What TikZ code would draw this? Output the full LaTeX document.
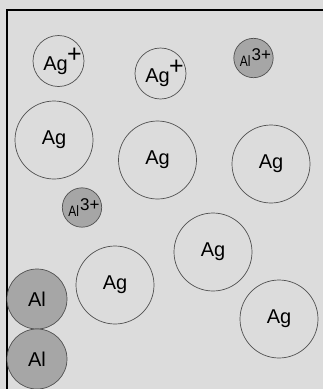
\documentclass[tikz,border=0pt]{standalone}
\usepackage{fontspec}
\setmainfont{Liberation Sans}
\definecolor{bggray}{HTML}{DCDCDC}
\definecolor{ionfill}{HTML}{A6A6A6}
\definecolor{rimgray}{HTML}{505050}
\newcommand{\agion}{\fontsize{20}{20}\selectfont\kern-6pt Ag\rlap{\kern-0.5pt\raisebox{8pt}{\fontsize{25}{25}\selectfont +}}}
\newcommand{\alion}{\kern4pt\fontsize{15}{15}\selectfont\scalebox{0.8}[1]{Al}\kern1pt\raisebox{6pt}{\fontsize{17}{17}\selectfont 3+}}

\begin{document}
\begin{tikzpicture}[x=1pt,y=-1pt,
    atom/.style={circle,draw=rimgray,line width=0.7pt,inner sep=0pt,font=\fontsize{20}{20}\selectfont},
    silver/.style={atom,minimum size=78pt},
    silverion/.style={atom,minimum size=51pt},
    alu/.style={atom,fill=ionfill,minimum size=60pt},
    aluion/.style={atom,fill=ionfill,minimum size=39pt}]
                \fill [bggray] (0,0) rectangle (323,389);
                \useasboundingbox (0,0) rectangle (323,389);
                \draw [black,line width=1.3pt] (7,389) -- (7,10) -- (323,10);
                \node [silverion] (agp1) at (58.5,61) {\agion};
                \node [silverion] (agp2) at (160.5,73.5) {\agion};
                \node [aluion] (alp1) at (253.5,58) {\alion};
                \node [silver] (ag1) at (54,140) {Ag};
                \node [silver] (ag2) at (157.5,160) {Ag};
                \node [silver] (ag3) at (271,164) {Ag};
                \node [aluion] (alp2) at (82,207.5) {\alion};
                \node [silver] (ag4) at (213,252) {Ag};
                \node [silver] (ag5) at (115,285) {Ag};
                \node [silver] (ag6) at (279,319) {Ag};
                \node [alu] (al1) at (37,299) {Al};
                \node [alu] (al2) at (37,359) {Al};
            \end{tikzpicture}
\end{document}
